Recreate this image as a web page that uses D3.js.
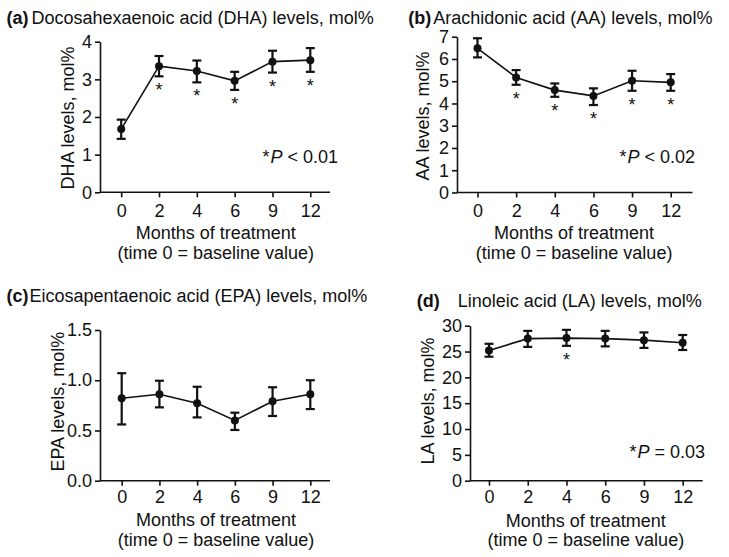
<!DOCTYPE html>
<html>
<head>
<meta charset="utf-8">
<script src="https://cdn.jsdelivr.net/npm/d3@7"></script>
<style>
  html, body { margin: 0; padding: 0; background: #fff; }
  svg { display: block; }
  text { font-family: "Liberation Sans", Arial, Helvetica, sans-serif; fill: #111; }
</style>
</head>
<body>
<svg id="chart" width="729" height="557"></svg>
<script>
// ---- Data ----
const months = ["0", "2", "4", "6", "9", "12"];

const dhaMean = [1.68, 3.35, 3.22, 2.96, 3.47, 3.51];
const dhaLow  = [1.42, 3.08, 2.92, 2.72, 3.18, 3.20];
const dhaHigh = [1.93, 3.62, 3.50, 3.20, 3.76, 3.83];
const dhaSig  = [false, true, true, true, true, true];
const dhaTicks = [0, 1, 2, 3, 4];

const aaMean = [6.48, 5.17, 4.60, 4.34, 5.02, 4.95];
const aaLow  = [6.07, 4.84, 4.30, 3.93, 4.57, 4.57];
const aaHigh = [6.93, 5.50, 4.90, 4.68, 5.47, 5.32];
const aaSig  = [false, true, true, true, true, true];
const aaTicks = [0, 1, 2, 3, 4, 5, 6, 7];

const epaMean = [0.82, 0.86, 0.77, 0.60, 0.79, 0.86];
const epaLow  = [0.56, 0.73, 0.63, 0.505, 0.644, 0.713];
const epaHigh = [1.07, 0.995, 0.935, 0.677, 0.93, 1.00];
const epaSig  = [false, false, false, false, false, false];
const epaTicks = [0, 0.5, 1.0, 1.5];

const laMean = [25.2, 27.5, 27.6, 27.5, 27.2, 26.7];
const laLow  = [24.0, 25.9, 26.1, 26.0, 25.7, 25.3];
const laHigh = [26.5, 29.0, 29.2, 29.0, 28.7, 28.2];
const laSig  = [false, false, true, false, false, false];
const laTicks = [0, 5, 10, 15, 20, 25, 30];

const panelLetters = ["(a)", "(b)", "(c)", "(d)"];
const panelTitles = [
  "Docosahexaenoic acid (DHA) levels, mol%",
  "Arachidonic acid (AA) levels, mol%",
  "Eicosapentaenoic acid (EPA) levels, mol%",
  "Linoleic acid (LA) levels, mol%"
];
const yLabels = ["DHA levels, mol%", "AA levels, mol%", "EPA levels, mol%", "LA levels, mol%"];
const pNotes = [["P", " < 0.01"], ["P", " < 0.02"], null, ["P", " = 0.03"]];
const xLabel1 = "Months of treatment";
const xLabel2 = "(time 0 = baseline value)";

// ---- Layout (pixel positions only) ----
const panels = [
  { mean: dhaMean, low: dhaLow, high: dhaHigh, sig: dhaSig, ticks: dhaTicks, fmt: d3.format("d"),
    axisX: 100, first: 121.2, last: 310.3, xEnd: 330, y0: 192.3, yTop: 41.7,
    titleX: 6.5, titleGap: 3, titleY: 24, ylX: 74, ylY: 118, tickY: 217, xl1Y: 239, xl2Y: 258.5,
    pX: 338, pY: 162.7 },
  { mean: aaMean, low: aaLow, high: aaHigh, sig: aaSig, ticks: aaTicks, fmt: d3.format("d"),
    axisX: 457, first: 477.5, last: 670.7, xEnd: 692.5, y0: 192.5, yTop: 36.7,
    titleX: 408.3, titleGap: 2, titleY: 24, ylX: 428.5, ylY: 116, tickY: 217, xl1Y: 239, xl2Y: 258.5,
    pX: 695, pY: 163.3 },
  { mean: epaMean, low: epaLow, high: epaHigh, sig: epaSig, ticks: epaTicks, fmt: d3.format(".1f"),
    axisX: 100, first: 121.7, last: 310.3, xEnd: 330, y0: 480.7, yTop: 330,
    titleX: 6.5, titleGap: 1, titleY: 302, ylX: 63.5, ylY: 401.7, tickY: 503, xl1Y: 525.5, xl2Y: 545.5,
    pX: 0, pY: 0 },
  { mean: laMean, low: laLow, high: laHigh, sig: laSig, ticks: laTicks, fmt: d3.format("d"),
    axisX: 470, first: 489, last: 682.7, xEnd: 702.7, y0: 480.7, yTop: 325.7,
    titleX: 416.7, titleGap: 18, titleY: 306.7, ylX: 434, ylY: 401, tickY: 503, xl1Y: 526.5, xl2Y: 546,
    pX: 705, pY: 458.3 }
];

const svg = d3.select("#chart");
const ink = "#111";
const fs = 18;

panels.forEach((p, i) => {
  const g = svg.append("g");
  const x = d3.scalePoint().domain(months).range([p.first, p.last]);
  const y = d3.scaleLinear().domain([0, d3.max(p.ticks)]).range([p.y0, p.yTop]);

  // Y axis
  const ya = g.append("g").attr("transform", `translate(${p.axisX},0)`)
    .call(d3.axisLeft(y).tickValues(p.ticks).tickFormat(p.fmt).tickSize(5).tickSizeOuter(0).tickPadding(3));
  // X axis
  const xa = g.append("g").attr("transform", `translate(0,${p.y0})`)
    .call(d3.axisBottom(x).tickSize(5).tickSizeOuter(0).tickPadding(3));
  xa.select(".domain").attr("d", `M${p.axisX},0H${p.xEnd}`);

  [ya, xa].forEach(a => {
    a.selectAll("path, line").attr("stroke", ink).attr("stroke-width", 1.6);
    a.selectAll("text").attr("font-size", fs).attr("fill", ink)
      .style("font-family", '"Liberation Sans", Arial, sans-serif');
  });
  xa.selectAll(".tick text").attr("y", null).attr("dy", null)
    .attr("transform", `translate(0,${p.tickY - p.y0})`);

  // Title
  const t = g.append("text").attr("x", p.titleX).attr("y", p.titleY).attr("font-size", fs);
  t.append("tspan").attr("font-weight", "bold").text(panelLetters[i]);
  t.append("tspan").attr("dx", p.titleGap).text(panelTitles[i]);

  // Y label
  g.append("text")
    .attr("transform", `translate(${p.ylX},${p.ylY}) rotate(-90)`)
    .attr("text-anchor", "middle").attr("font-size", fs)
    .text(yLabels[i]);

  // X labels
  const cx = (p.first + p.last) / 2;
  g.append("text").attr("x", cx).attr("y", p.xl1Y).attr("text-anchor", "middle").attr("font-size", fs).text(xLabel1);
  g.append("text").attr("x", cx).attr("y", p.xl2Y).attr("text-anchor", "middle").attr("font-size", fs).text(xLabel2);

  // Data
  const data = months.map((m, k) => ({ m, v: p.mean[k], lo: p.low[k], hi: p.high[k], s: p.sig[k] }));

  g.append("path").datum(data)
    .attr("fill", "none").attr("stroke", ink).attr("stroke-width", 1.6)
    .attr("d", d3.line().x(d => x(d.m)).y(d => y(d.v)));

  const eb = g.append("g").selectAll("g").data(data).join("g");
  eb.append("line").attr("x1", d => x(d.m)).attr("x2", d => x(d.m))
    .attr("y1", d => y(d.lo)).attr("y2", d => y(d.hi))
    .attr("stroke", ink).attr("stroke-width", 2.2);
  [d => d.lo, d => d.hi].forEach(f => {
    eb.append("line").attr("x1", d => x(d.m) - 4.5).attr("x2", d => x(d.m) + 4.5)
      .attr("y1", d => y(f(d))).attr("y2", d => y(f(d)))
      .attr("stroke", ink).attr("stroke-width", 2.2);
  });
  eb.append("circle").attr("cx", d => x(d.m)).attr("cy", d => y(d.v)).attr("r", 4).attr("fill", ink);

  // Significance stars
  g.append("g").selectAll("text").data(data.filter(d => d.s)).join("text")
    .attr("x", d => x(d.m)).attr("y", d => y(d.lo) + 20)
    .attr("text-anchor", "middle").attr("font-size", fs).text("*");

  // P note
  if (pNotes[i]) {
    const pt = g.append("text").attr("x", p.pX).attr("y", p.pY).attr("text-anchor", "end").attr("font-size", fs);
    pt.append("tspan").text("*");
    pt.append("tspan").attr("font-style", "italic").attr("dx", 1).text(pNotes[i][0]);
    pt.append("tspan").text(pNotes[i][1]);
  }
});
</script>
</body>
</html>
